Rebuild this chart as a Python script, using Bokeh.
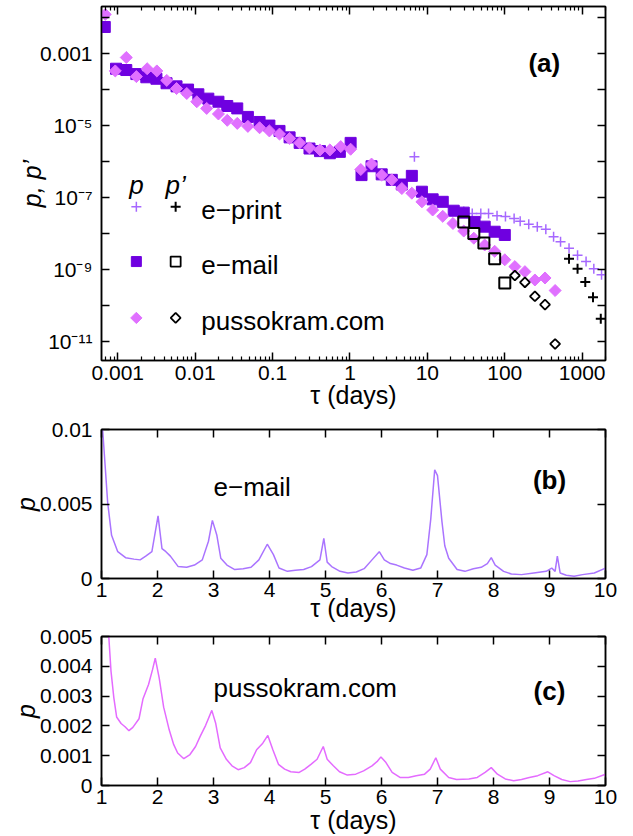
import numpy as np
from bokeh.plotting import figure
from bokeh.models import (LogAxis, LinearAxis, FixedTicker, Range1d, Label)
from bokeh.layouts import column
from bokeh.embed import file_html
from bokeh.resources import INLINE

FONT = "Liberation Sans"

# ---------------- panel (a) data ----------------
email_tau = [6.8e-4, 9.5e-4, 1.29e-3, 1.74e-3, 2.34e-3, 3.16e-3, 4.27e-3, 5.75e-3,
             8.1e-3, 1.1e-2, 1.48e-2, 2.0e-2, 2.6e-2, 3.5e-2, 4.8e-2, 6.8e-2,
             9.1e-2, 0.123, 0.166, 0.224, 0.30, 0.41, 0.55, 0.74, 1.02, 1.41,
             1.9, 2.57, 3.47, 4.68, 6.3, 8.5, 11.7, 15.8, 21.9, 29.5, 40.7, 55,
             74, 100]
email_p = [5.5e-3, 3.8e-4, 3.5e-4, 2.7e-4, 2.2e-4, 2.0e-4, 1.5e-4, 1.23e-4,
           1.0e-4, 7.4e-5, 5.6e-5, 4.6e-5, 3.5e-5, 3.0e-5, 1.74e-5, 1.26e-5,
           1.0e-5, 7.1e-6, 4.7e-6, 3.3e-6, 2.3e-6, 1.95e-6, 1.7e-6, 1.86e-6,
           3.3e-6, 4.2e-7, 7.4e-7, 4.4e-7, 3.1e-7, 2.3e-7, 4.0e-7, 1.45e-7,
           8.9e-8, 7.6e-8, 4.3e-8, 3.8e-8, 2.1e-8, 1.55e-8, 1.12e-8, 9.1e-9]

pusso_tau = [6.9e-4, 9.3e-4, 1.29e-3, 1.74e-3, 2.4e-3, 3.2e-3, 4.3e-3, 5.75e-3,
             7.8e-3, 1.05e-2, 1.41e-2, 2.0e-2, 2.6e-2, 3.5e-2, 4.8e-2, 6.8e-2,
             9.1e-2, 0.123, 0.166, 0.224, 0.30, 0.41, 0.55, 0.76, 1.02, 1.38,
             1.9, 2.57, 3.47, 4.68, 6.3, 8.5, 11.7, 15.8, 21.4, 29.5, 39.8, 55,
             74, 100, 135, 182, 245, 331, 447]
pusso_p = [1.23e-2, 3.3e-4, 7.8e-4, 2.3e-4, 3.8e-4, 3.3e-4, 1.8e-4, 1.07e-4,
           7.8e-5, 4.6e-5, 3.0e-5, 2.1e-5, 1.4e-5, 1.15e-5, 9.5e-6, 8.7e-6,
           7.1e-6, 5.8e-6, 4.4e-6, 3.3e-6, 2.4e-6, 2.1e-6, 2.1e-6, 2.6e-6,
           2.2e-6, 6.0e-7, 8.5e-7, 4.2e-7, 3.1e-7, 1.78e-7, 1.32e-7, 7.6e-8,
           4.5e-8, 3.0e-8, 1.9e-8, 1.17e-8, 7.4e-9, 4.8e-9, 3.2e-9, 1.86e-9,
           1.2e-9, 8.7e-10, 5.1e-10, 5.8e-10, 2.6e-10]

eprint_tau = [6.8, 29.5, 38, 49, 61.7, 79.4, 102, 132, 158, 204, 263, 339, 427,
              525, 676, 871, 1122, 1413, 1778]
eprint_p = [1.35e-6, 4.1e-8, 3.6e-8, 3.6e-8, 3.6e-8, 3.1e-8, 2.95e-8, 2.6e-8,
            2.2e-8, 1.8e-8, 1.55e-8, 1.32e-8, 8.1e-9, 5.9e-9, 3.9e-9, 2.5e-9,
            1.66e-9, 1.05e-9, 7.1e-10]

email_tau_prime = [29.5, 39.8, 53.7, 74, 100]
email_p_prime = [2.1e-8, 1.0e-8, 5.4e-9, 2.0e-9, 4.2e-10]

pusso_tau_prime = [135, 182, 245, 331, 447]
pusso_p_prime = [6.8e-10, 4.4e-10, 1.8e-10, 1.05e-10, 8.5e-12]

eprint_tau_prime = [676, 871, 1096, 1380, 1738]
eprint_p_prime = [2.0e-9, 1.05e-9, 4.5e-10, 1.7e-10, 4.3e-11]

series_names = ["e\u2212print", "e\u2212mail", "pussokram.com"]

a_x_ticks = [0.001, 0.01, 0.1, 1, 10, 100, 1000]
a_x_labels = ["0.001", "0.01", "0.1", "1", "10", "100", "1000"]
a_y_ticks = [1e-12, 1e-11, 1e-10, 1e-9, 1e-8, 1e-7, 1e-6, 1e-5, 1e-4, 1e-3, 1e-2]
a_y_labels = ["", "10\u207b\u00b9\u00b9", "", "10\u207b\u2079", "", "10\u207b\u2077", "",
              "10\u207b\u2075", "", "0.001", ""]

# ---------------- panel (b) data : e-mail ----------------
b_tau = [1.01, 1.02, 1.07, 1.11, 1.18, 1.29, 1.43, 1.58, 1.69, 1.79, 1.90, 2.01,
         2.08, 2.15, 2.23, 2.37, 2.52, 2.66, 2.80, 2.91, 2.98, 3.06, 3.13, 3.24,
         3.38, 3.53, 3.67, 3.81, 3.96, 4.07, 4.17, 4.32, 4.46, 4.61, 4.75, 4.90,
         4.97, 5.03, 5.11, 5.26, 5.40, 5.55, 5.69, 5.83, 5.96, 6.05, 6.16, 6.27,
         6.41, 6.56, 6.70, 6.81, 6.88, 6.95, 7.00, 7.08, 7.13, 7.20, 7.35, 7.49,
         7.64, 7.78, 7.89, 7.96, 8.03, 8.18, 8.32, 8.50, 8.72, 8.94, 9.04, 9.10,
         9.14, 9.19, 9.30, 9.44, 9.59, 9.80, 10.0]
b_p = [0.0125, 0.0100, 0.0073, 0.0051, 0.0029, 0.0018, 0.0014, 0.0013, 0.00125,
       0.0015, 0.0018, 0.0042, 0.0020, 0.0018, 0.0015, 0.0008, 0.00075, 0.0009,
       0.00125, 0.0025, 0.0039, 0.0029, 0.00136, 0.0009, 0.0006, 0.00066,
       0.00075, 0.00125, 0.0023, 0.0016, 0.0007, 0.00048, 0.00055, 0.0006,
       0.0008, 0.00125, 0.0027, 0.0011, 0.0008, 0.00048, 0.00037, 0.00044,
       0.00066, 0.00125, 0.0018, 0.00125, 0.0010, 0.0009, 0.0007, 0.00055,
       0.0007, 0.0016, 0.0040, 0.0073, 0.0069, 0.0038, 0.0022, 0.00136, 0.0006,
       0.00048, 0.00066, 0.00075, 0.0010, 0.0014, 0.0009, 0.00048, 0.0003,
       0.00026, 0.00037, 0.00048, 0.0007, 0.00048, 0.0015, 0.00037, 0.00022,
       0.00015, 0.00026, 0.00037, 0.0007]

# ---------------- panel (c) data : pussokram.com ----------------
c_tau = [1.13, 1.17, 1.22, 1.27, 1.35, 1.42, 1.49, 1.56, 1.67, 1.74, 1.84, 1.91,
         1.96, 2.03, 2.11, 2.21, 2.29, 2.36, 2.47, 2.58, 2.68, 2.76, 2.86, 2.97,
         3.04, 3.12, 3.23, 3.33, 3.44, 3.55, 3.66, 3.77, 3.88, 3.97, 4.06, 4.16,
         4.27, 4.38, 4.53, 4.63, 4.74, 4.85, 4.96, 5.03, 5.14, 5.25, 5.39, 5.54,
         5.68, 5.83, 5.93, 5.99, 6.08, 6.19, 6.33, 6.48, 6.62, 6.77, 6.87, 6.97,
         7.05, 7.20, 7.34, 7.56, 7.71, 7.85, 7.96, 8.07, 8.21, 8.36, 8.50, 8.64,
         8.79, 8.97, 9.08, 9.22, 9.37, 9.51, 9.66, 9.80, 10.0]
c_p = [0.0050, 0.00383, 0.00295, 0.0023, 0.00208, 0.00197, 0.00184, 0.00195,
       0.00224, 0.0029, 0.00339, 0.00388, 0.00427, 0.00361, 0.00263, 0.00186,
       0.00137, 0.00109, 0.0009, 0.00104, 0.00131, 0.00164, 0.00202, 0.00252,
       0.00208, 0.00126, 0.00088, 0.00066, 0.00053, 0.0006, 0.00077, 0.0012,
       0.00142, 0.00168, 0.0012, 0.00071, 0.00055, 0.00046, 0.00044, 0.00055,
       0.00071, 0.00088, 0.00131, 0.00088, 0.00066, 0.00046, 0.00035, 0.00038,
       0.00049, 0.00066, 0.00082, 0.00096, 0.00077, 0.00044, 0.00027, 0.00027,
       0.00033, 0.00038, 0.00055, 0.00093, 0.00055, 0.00027, 0.0002, 0.00022,
       0.00027, 0.00044, 0.0006, 0.00038, 0.00022, 0.00016, 0.0002, 0.00027,
       0.00033, 0.00046, 0.00033, 0.0002, 0.00013, 0.00015, 0.0002, 0.00024,
       0.00038]

day_ticks = [1, 2, 3, 4, 5, 6, 7, 8, 9, 10]
b_y_ticks = [0, 0.005, 0.01]
b_y_labels = ["0", "0.005", "0.01"]
c_y_ticks = [0, 0.001, 0.002, 0.003, 0.004, 0.005]
c_y_labels = ["0", "0.001", "0.002", "0.003", "0.004", "0.005"]

# ---------------- styles ----------------
SQ = "#6F00E0"
DIA = "#E070FF"
EPR = "#A668FF"
LINE_B = "#AA74FF"
LINE_C = "#E46BFF"
W = 633
BL, BR = 101, 28


def style_axis(ax, ticks, labels=None, minor=None, hide=False, standoff=6):
    ax.ticker = FixedTicker(ticks=ticks, minor_ticks=minor or [])
    ax.major_tick_in = 8
    ax.major_tick_out = 0
    ax.minor_tick_in = 4
    ax.minor_tick_out = 0
    ax.axis_line_width = 1.5
    ax.axis_line_color = "black"
    ax.major_tick_line_width = 1.5
    ax.minor_tick_line_width = 1.2
    ax.major_label_text_font = FONT
    ax.major_label_text_color = "black"
    if hide:
        ax.major_label_overrides = {t: "" for t in ticks}
        ax.major_label_text_font_size = "0px"
        ax.major_label_standoff = 0
    else:
        ax.major_label_text_font_size = "21px"
        ax.major_label_standoff = standoff
        if labels is not None:
            ax.major_label_overrides = {t: l for t, l in zip(ticks, labels)}
    ax.axis_label_text_font = FONT
    ax.axis_label_text_font_size = "25px"
    ax.axis_label_text_color = "black"
    ax.axis_label_text_font_style = "normal"


def base(fig):
    fig.grid.visible = False
    fig.outline_line_color = "black"
    fig.outline_line_width = 1.5
    fig.background_fill_color = "white"
    fig.border_fill_color = "white"


def text(fig, x, y, s, bold=False, italic=False, align="left",
         baseline="alphabetic", size="26px"):
    style = "bold" if bold else ("italic" if italic else "normal")
    fig.add_layout(Label(x=x, y=y, text=s, text_font=FONT, text_font_size=size,
                         text_color="black", text_font_style=style,
                         text_align=align, text_baseline=baseline))


# ---------------- panel (a) ----------------
pa = figure(width=W, height=414, x_axis_type="log", y_axis_type="log",
            x_range=Range1d(6.17e-4, 2000), y_range=Range1d(2.95e-12, 2.04e-2),
            output_backend="svg", toolbar_location=None,
            min_border_left=BL, min_border_right=BR, min_border_top=6,
            min_border_bottom=54)
base(pa)
minor_x = [m * 10.0 ** e for e in range(-4, 4) for m in range(2, 10)]
style_axis(pa.xaxis[0], a_x_ticks, a_x_labels, minor=minor_x, standoff=5)
style_axis(pa.yaxis[0], a_y_ticks, a_y_labels, standoff=9)
pa.xaxis[0].axis_label = "\u03c4 (days)"
pa.xaxis[0].axis_label_standoff = -2
pa.yaxis[0].axis_label = "p, p\u2019"
pa.yaxis[0].axis_label_text_font_style = "italic"
pa.yaxis[0].axis_label_standoff = -9
top_a = LogAxis()
style_axis(top_a, a_x_ticks, minor=minor_x, hide=True)
pa.add_layout(top_a, "above")
right_a = LogAxis()
style_axis(right_a, a_y_ticks, hide=True)
pa.add_layout(right_a, "right")

pa.scatter(eprint_tau, eprint_p, marker="cross", size=10,
           line_color=EPR, line_width=1.5)
pa.scatter(email_tau, email_p, marker="square", size=11,
           fill_color=SQ, line_color=SQ)
pa.scatter(pusso_tau, pusso_p, marker="square", angle=np.pi / 4, size=8.5,
           fill_color=DIA, line_color=DIA)
pa.scatter(eprint_tau_prime, eprint_p_prime, marker="cross", size=10,
           line_color="black", line_width=2)
pa.scatter(email_tau_prime, email_p_prime, marker="square", size=11,
           fill_color=None, line_color="black", line_width=2)
pa.scatter(pusso_tau_prime, pusso_p_prime, marker="square", angle=np.pi / 4,
           size=7, fill_color=None, line_color="black", line_width=1.8)

# legend keys (position in axis units, two marker columns: p and p')
key_x_p, key_x_pp, key_x_text = 1.74e-3, 5.6e-3, 1.2e-2
key_rows = [5.5e-8, 1.66e-9, 4.5e-11]
key_text_rows = [4.4e-8, 1.33e-9, 3.6e-11]
pa.scatter([key_x_p], [key_rows[0]], marker="cross", size=10, line_color=EPR,
           line_width=1.5)
pa.scatter([key_x_p], [key_rows[1]], marker="square", size=10, fill_color=SQ,
           line_color=SQ)
pa.scatter([key_x_p], [key_rows[2]], marker="square", angle=np.pi / 4, size=8,
           fill_color=DIA, line_color=DIA)
pa.scatter([key_x_pp], [key_rows[0]], marker="cross", size=10, line_color="black",
           line_width=2)
pa.scatter([key_x_pp], [key_rows[1]], marker="square", size=10, fill_color=None,
           line_color="black", line_width=1.8)
pa.scatter([key_x_pp], [key_rows[2]], marker="square", angle=np.pi / 4, size=7,
           fill_color=None, line_color="black", line_width=1.8)
for name, yy in zip(series_names, key_text_rows):
    text(pa, key_x_text, yy, name)
text(pa, key_x_p, 2.3e-7, "p", italic=True, align="center")
text(pa, key_x_pp, 2.3e-7, "p\u2019", italic=True, align="center")
text(pa, 324, 5.56e-4, "(a)", bold=True, align="center", baseline="middle")


# ---------------- panels (b), (c) ----------------
def day_panel(height, top, bottom, ymax, yticks, ylabels, xs, ys, color, name,
              tag, name_y, tag_y, label_standoff):
    f = figure(width=W, height=height, x_range=Range1d(1, 10),
               y_range=Range1d(0, ymax), output_backend="svg",
               toolbar_location=None, min_border_left=BL, min_border_right=BR,
               min_border_top=top, min_border_bottom=bottom)
    base(f)
    style_axis(f.xaxis[0], day_ticks, standoff=4)
    style_axis(f.yaxis[0], yticks, ylabels, standoff=9)
    f.xaxis[0].axis_label = "\u03c4 (days)"
    f.xaxis[0].axis_label_standoff = label_standoff
    f.yaxis[0].axis_label = "p"
    f.yaxis[0].axis_label_text_font_style = "italic"
    f.yaxis[0].axis_label_standoff = -3
    t = LinearAxis()
    style_axis(t, day_ticks, hide=True)
    f.add_layout(t, "above")
    r = LinearAxis()
    style_axis(r, yticks, hide=True)
    f.add_layout(r, "right")
    f.line(xs, ys, line_color=color, line_width=1.5)
    text(f, 3.0, name_y, name)
    text(f, 9.0, tag_y, tag, bold=True, align="center", baseline="middle")
    return f


pb = day_panel(210, 15, 43, 0.01, b_y_ticks, b_y_labels, b_tau, b_p, LINE_B,
               "e\u2212mail", "(b)", 0.00611, 0.00664, -6)
pc = day_panel(212, 12, 49, 0.005, c_y_ticks, c_y_labels, c_tau, c_p, LINE_C,
               "pussokram.com", "(c)", 0.00328, 0.00316, -1)

layout = column(pa, pb, pc, spacing=0)
open("out.html", "w").write(file_html(layout, INLINE))
